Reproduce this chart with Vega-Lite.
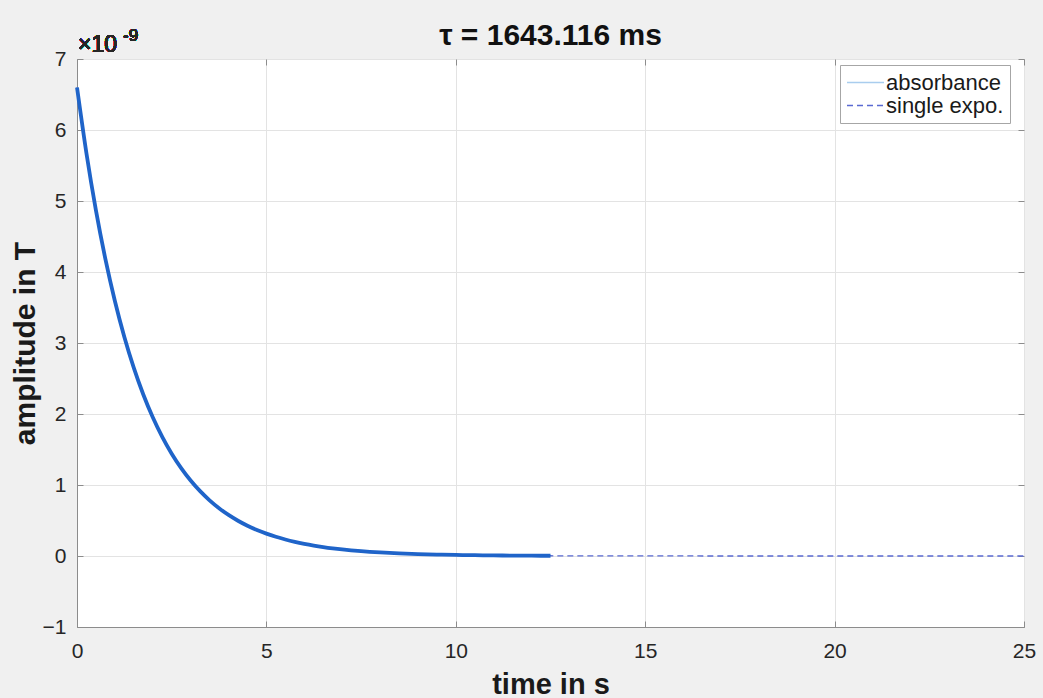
{
  "$schema": "https://vega.github.io/schema/vega-lite/v6.json",
  "autosize": "none",
  "width": 947,
  "height": 568,
  "padding": {"left": 77, "top": 59, "right": 19, "bottom": 71},
  "background": "#f0f0f0",
  "config": {
    "font": "Liberation Sans",
    "view": {"fill": "white", "stroke": "#8c8c8c", "strokeWidth": 1},
    "axis": {
      "labelFont": "Liberation Sans",
      "labelFontSize": 21,
      "labelColor": "#262626",
      "titleFont": "Liberation Sans",
      "titleFontWeight": "bold",
      "titleColor": "#1a1a1a",
      "domainColor": "#8c8c8c",
      "tickColor": "#8c8c8c",
      "gridColor": "#e3e3e3",
      "gridWidth": 1
    },
    "legend": {
      "labelFont": "Liberation Sans",
      "labelFontSize": 22,
      "labelColor": "#1a1a1a"
    }
  },
  "title": {
    "text": "τ = 1643.116 ms",
    "font": "Liberation Sans",
    "fontSize": 30,
    "fontWeight": "bold",
    "color": "#111111",
    "anchor": "middle",
    "offset": 0,
    "dy": 24
  },
  "resolve": {"axis": {"x": "independent", "y": "independent"}},
  "data": {
    "values": [
      {"t": 0, "amp": 6.6, "series": "absorbance"},
      {"t": 0.25, "amp": 5.6685, "series": "absorbance"},
      {"t": 0.5, "amp": 4.8684, "series": "absorbance"},
      {"t": 0.75, "amp": 4.1813, "series": "absorbance"},
      {"t": 1.0, "amp": 3.5912, "series": "absorbance"},
      {"t": 1.25, "amp": 3.0843, "series": "absorbance"},
      {"t": 1.5, "amp": 2.649, "series": "absorbance"},
      {"t": 1.75, "amp": 2.2751, "series": "absorbance"},
      {"t": 2.0, "amp": 1.954, "series": "absorbance"},
      {"t": 2.25, "amp": 1.6782, "series": "absorbance"},
      {"t": 2.5, "amp": 1.4413, "series": "absorbance"},
      {"t": 2.75, "amp": 1.2379, "series": "absorbance"},
      {"t": 3.0, "amp": 1.0632, "series": "absorbance"},
      {"t": 3.25, "amp": 0.9131, "series": "absorbance"},
      {"t": 3.5, "amp": 0.7842, "series": "absorbance"},
      {"t": 3.75, "amp": 0.6735, "series": "absorbance"},
      {"t": 4.0, "amp": 0.5785, "series": "absorbance"},
      {"t": 4.25, "amp": 0.4968, "series": "absorbance"},
      {"t": 4.5, "amp": 0.4267, "series": "absorbance"},
      {"t": 4.75, "amp": 0.3665, "series": "absorbance"},
      {"t": 5.0, "amp": 0.3147, "series": "absorbance"},
      {"t": 5.25, "amp": 0.2703, "series": "absorbance"},
      {"t": 5.5, "amp": 0.2322, "series": "absorbance"},
      {"t": 5.75, "amp": 0.1994, "series": "absorbance"},
      {"t": 6.0, "amp": 0.1713, "series": "absorbance"},
      {"t": 6.25, "amp": 0.1471, "series": "absorbance"},
      {"t": 6.5, "amp": 0.1263, "series": "absorbance"},
      {"t": 6.75, "amp": 0.1085, "series": "absorbance"},
      {"t": 7.0, "amp": 0.0932, "series": "absorbance"},
      {"t": 7.5, "amp": 0.0687, "series": "absorbance"},
      {"t": 8.0, "amp": 0.0507, "series": "absorbance"},
      {"t": 8.5, "amp": 0.0374, "series": "absorbance"},
      {"t": 9.0, "amp": 0.0276, "series": "absorbance"},
      {"t": 9.5, "amp": 0.0204, "series": "absorbance"},
      {"t": 10.0, "amp": 0.015, "series": "absorbance"},
      {"t": 10.5, "amp": 0.0111, "series": "absorbance"},
      {"t": 11.0, "amp": 0.0082, "series": "absorbance"},
      {"t": 11.5, "amp": 0.006, "series": "absorbance"},
      {"t": 12.0, "amp": 0.0044, "series": "absorbance"},
      {"t": 12.5, "amp": 0.0033, "series": "absorbance"},
      {"t": 0, "amp": 6.6, "series": "single expo."},
      {"t": 0.5, "amp": 4.8684, "series": "single expo."},
      {"t": 1.0, "amp": 3.5912, "series": "single expo."},
      {"t": 1.5, "amp": 2.649, "series": "single expo."},
      {"t": 2.0, "amp": 1.954, "series": "single expo."},
      {"t": 2.5, "amp": 1.4413, "series": "single expo."},
      {"t": 3.0, "amp": 1.0632, "series": "single expo."},
      {"t": 3.5, "amp": 0.7842, "series": "single expo."},
      {"t": 4.0, "amp": 0.5785, "series": "single expo."},
      {"t": 5.0, "amp": 0.3147, "series": "single expo."},
      {"t": 6.0, "amp": 0.1713, "series": "single expo."},
      {"t": 7.0, "amp": 0.0932, "series": "single expo."},
      {"t": 8.0, "amp": 0.0507, "series": "single expo."},
      {"t": 9.0, "amp": 0.0276, "series": "single expo."},
      {"t": 10.0, "amp": 0.015, "series": "single expo."},
      {"t": 12.5, "amp": 0.0033, "series": "single expo."},
      {"t": 15.0, "amp": 0.0007, "series": "single expo."},
      {"t": 20.0, "amp": 0.0, "series": "single expo."},
      {"t": 25.0, "amp": 0.0, "series": "single expo."}
    ]
  },
  "layer": [
    {
      "mark": {"type": "line", "strokeWidth": 1.3, "interpolate": "monotone"},
      "encoding": {
        "x": {
          "field": "t", "type": "quantitative",
          "scale": {"domain": [0, 25], "nice": false},
          "axis": {
            "title": "time in s", "titleFontSize": 29,
            "titleBaseline": "alphabetic", "titleY": 66,
            "values": [0, 5, 10, 15, 20, 25], "format": "d",
            "grid": true, "tickSize": -6, "labelPadding": 19, "labelFlush": false
          }
        },
        "y": {
          "field": "amp", "type": "quantitative",
          "scale": {"domain": [-1, 7], "nice": false, "zero": false},
          "axis": {
            "title": "amplitude in T", "titleFontSize": 30,
            "titleBaseline": "alphabetic", "titleX": -43,
            "values": [-1, 0, 1, 2, 3, 4, 5, 6, 7], "format": "d",
            "grid": true, "tickSize": -6, "labelPadding": 17
          }
        },
        "color": {
          "field": "series", "type": "nominal",
          "scale": {"domain": ["absorbance", "single expo."], "range": ["#a9cdee", "#5a6ad2"]},
          "legend": {
            "title": null, "orient": "none", "legendX": 763, "legendY": 6,
            "fillColor": "white", "strokeColor": "#a6a6a6", "padding": 6,
            "symbolType": "M-1,0H1", "symbolSize": 1369, "symbolStrokeWidth": 1.3,
            "clipHeight": 23, "rowPadding": 0, "labelOffset": 1
          }
        },
        "strokeDash": {
          "field": "series", "type": "nominal",
          "scale": {"domain": ["absorbance", "single expo."], "range": [[1, 0], [6, 4]]},
          "legend": null
        }
      }
    },
    {
      "transform": [{"filter": "datum.series === 'absorbance'"}],
      "mark": {"type": "line", "strokeWidth": 3.8, "color": "#1f64c9", "interpolate": "monotone"},
      "encoding": {
        "x": {
          "field": "t", "type": "quantitative",
          "axis": {
            "orient": "top", "title": null, "labels": false, "grid": false, "domain": false,
            "values": [0, 5, 10, 15, 20, 25], "tickSize": -6
          }
        },
        "y": {
          "field": "amp", "type": "quantitative",
          "axis": {
            "orient": "right", "title": null, "labels": false, "grid": false, "domain": false,
            "values": [-1, 0, 1, 2, 3, 4, 5, 6, 7], "tickSize": -6
          }
        }
      }
    },
    {
      "mark": {"type": "text", "align": "left", "baseline": "alphabetic", "fontSize": 23, "fontWeight": "normal", "color": "#262626", "dx": 1, "dy": -7},
      "encoding": {
        "x": {"datum": 0, "axis": null},
        "y": {"datum": 7, "axis": null},
        "text": {"value": "×10"}
      }
    },
    {
      "mark": {"type": "text", "align": "left", "baseline": "alphabetic", "fontSize": 17, "fontWeight": "normal", "color": "#262626", "dx": 46, "dy": -18},
      "encoding": {
        "x": {"datum": 0, "axis": null},
        "y": {"datum": 7, "axis": null},
        "text": {"value": "-9"}
      }
    }
  ]
}
